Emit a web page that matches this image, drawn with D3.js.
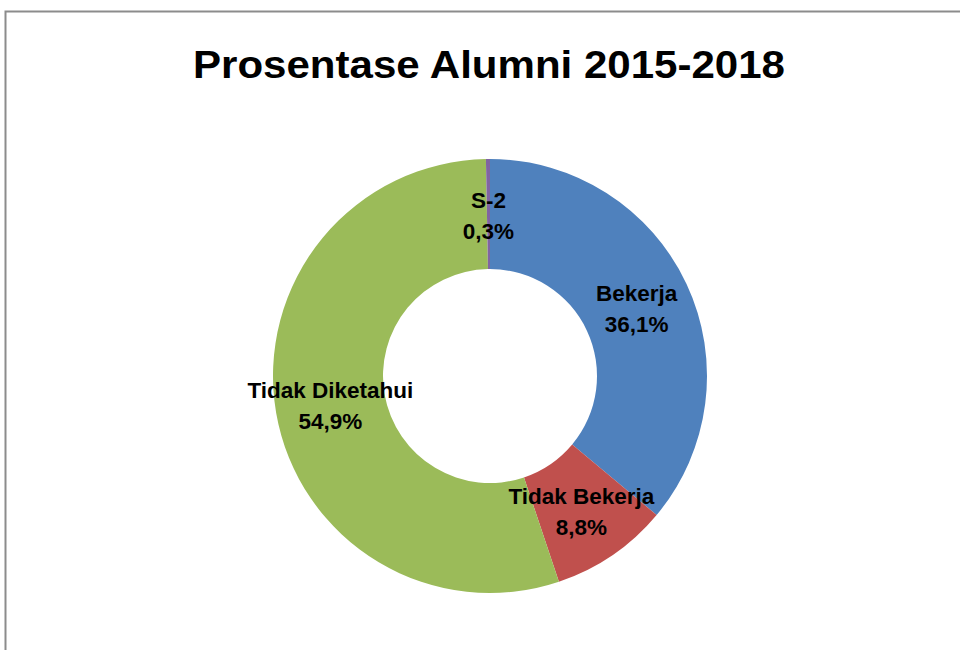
<!DOCTYPE html>
<html>
<head>
<meta charset="utf-8">
<script src="https://cdn.jsdelivr.net/npm/d3@7"></script>
<style>
  body { margin: 0; background: #fff; }
  text { font-family: "Liberation Sans", Arial, sans-serif; }
</style>
</head>
<body>
<div class="canvas"></div>
<script>
// chart data
const categories = ['Bekerja', 'Tidak Bekerja', 'Tidak Diketahui', 'S-2'];
const values = [36.1, 8.8, 54.9, 0.3];
const labels = ['36,1%', '8,8%', '54,9%', '0,3%'];
const colors = ['#4f81bd', '#c0504d', '#9bbb59', '#8064a2'];

const width = 960;
const height = 650;

const svg = d3.select('.canvas')
    .append('svg')
        .attr('width', width)
        .attr('height', height);

// chart area border
svg.append('rect')
    .attr('x', 5.5)
    .attr('y', 11.5)
    .attr('width', 970)
    .attr('height', 660)
    .attr('fill', 'none')
    .attr('stroke', '#8c8c8c')
    .attr('stroke-width', 2);

// title
svg.append('text')
    .attr('x', 489)
    .attr('y', 78)
    .attr('text-anchor', 'middle')
    .attr('font-size', 39)
    .attr('font-weight', 'bold')
    .attr('textLength', 592)
    .attr('lengthAdjust', 'spacingAndGlyphs')
    .text('Prosentase Alumni 2015-2018');

const cx = 490, cy = 376;
const outer = 217, inner = 107;

const data = categories.map((c, i) => ({name: c, value: values[i], label: labels[i]}));

const pie = d3.pie()
    .value(d => d.value)
    .sort(null);

const arc = d3.arc()
    .innerRadius(inner)
    .outerRadius(outer);

const labelArc = d3.arc()
    .innerRadius((inner + outer) / 2)
    .outerRadius((inner + outer) / 2);

const color = d3.scaleOrdinal()
    .domain(categories)
    .range(colors);

const graph = svg.append('g')
    .attr('transform', `translate(${cx},${cy})`);

const arcs = pie(data);

graph.selectAll('path')
    .data(arcs)
    .enter()
    .append('path')
        .attr('d', arc)
        .attr('fill', d => color(d.data.name));

// data labels: name + percent
const lbl = graph.selectAll('text.lbl')
    .data(arcs)
    .enter()
    .append('text')
        .attr('class', 'lbl')
        .attr('text-anchor', 'middle')
        .attr('font-size', 22.5)
        .attr('font-weight', 'bold')
        .attr('fill', '#000')
        .attr('transform', d => `translate(${labelArc.centroid(d)})`);

lbl.append('tspan')
    .attr('x', 0)
    .attr('y', -6)
    .text(d => d.data.name);

lbl.append('tspan')
    .attr('x', 0)
    .attr('y', 25)
    .text(d => d.data.label);
</script>
</body>
</html>
